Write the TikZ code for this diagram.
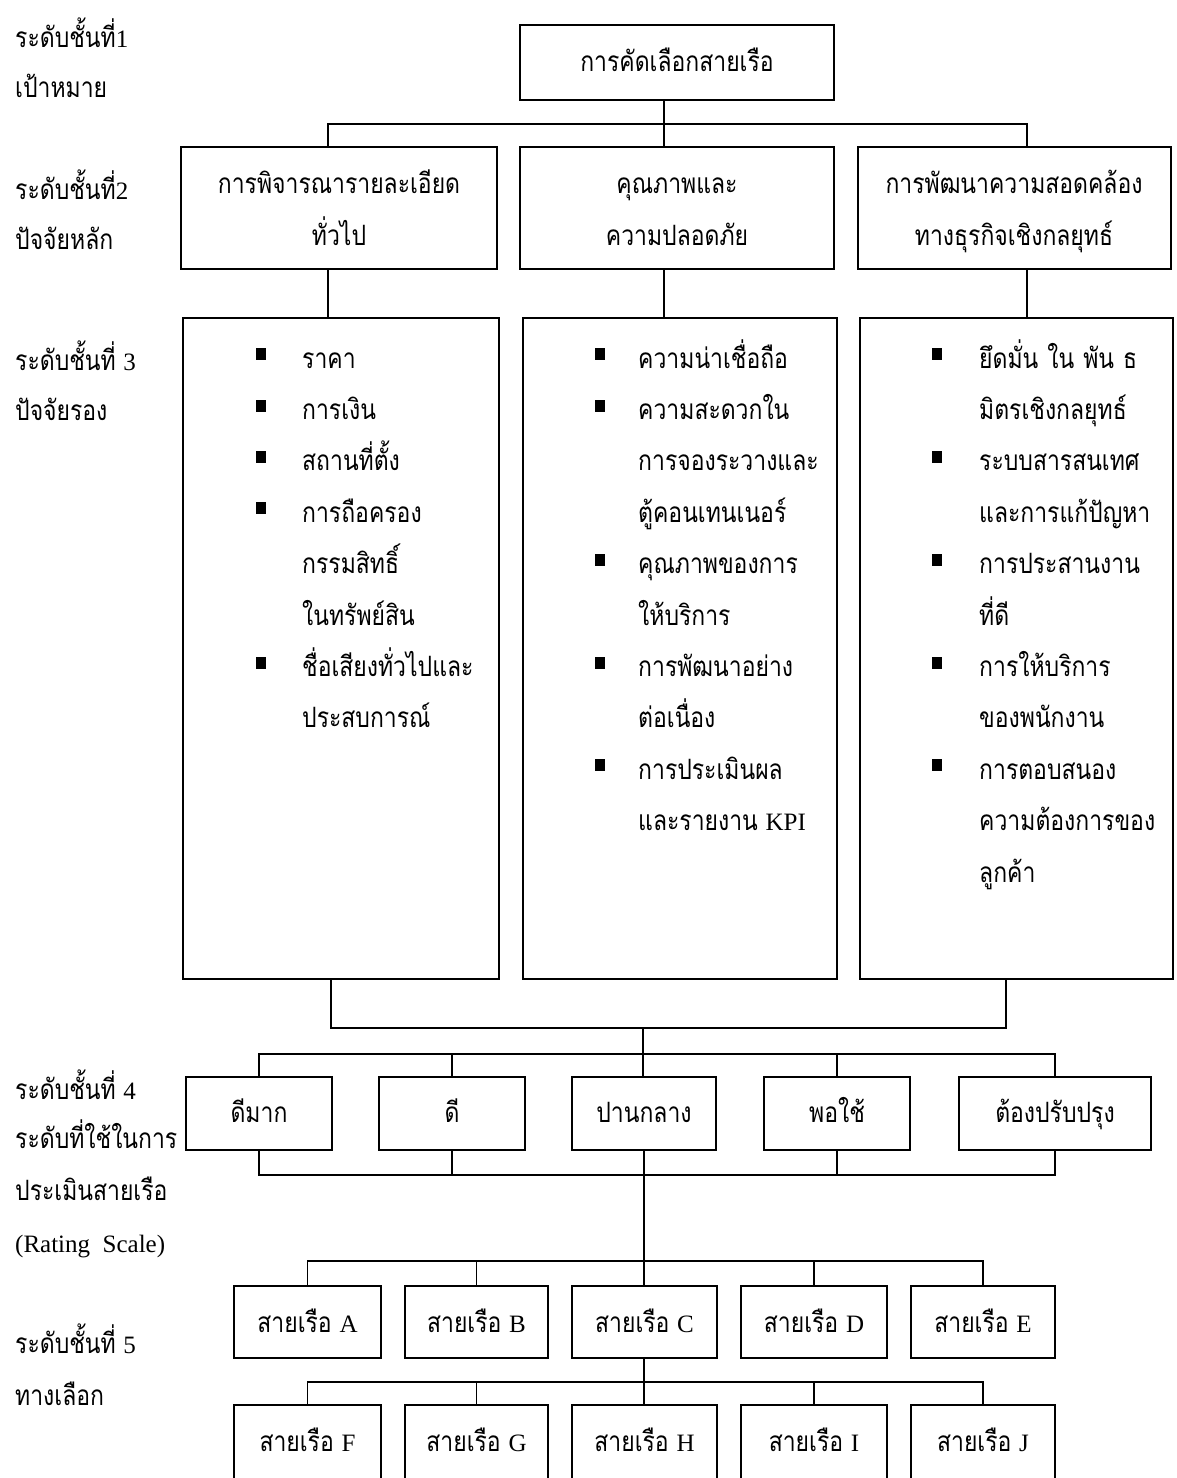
\documentclass[tikz,border=0pt]{standalone}
\usepackage{fontspec}
\setmainfont{Liberation Serif}
\newfontfamily\thf[Script=Thai,FakeStretch=0.82]{Loma}
\newfontfamily\latf{Liberation Serif}
\newcommand\tf{\thf\fontsize{28}{34}\selectfont}
\newcommand\lat[1]{{\latf\fontsize{25}{30}\selectfont #1}}
\newcommand\bx[5]{\node[box, minimum width={#4-#2}, minimum height={#5-#3}] (#1) at ({(#2+#4)/2},{(#3+#5)/2}) {};}
\begin{document}
\begin{tikzpicture}[x=1pt,y=-1pt,
  box/.style={draw, line width=1.8pt, inner sep=0pt},
  ln/.style={line width=1.3pt},
  tx/.style={inner sep=0pt, anchor=base, font=\tf},
  tl/.style={inner sep=0pt, anchor=base west, font=\tf},
  bul/.style={fill, inner sep=0pt, minimum width=10pt, minimum height=12pt, anchor=north west}]
\useasboundingbox (0,0) rectangle (1177,1478);
\clip (0,0) rectangle (1177,1478);
\fill[white] (0,0) rectangle (1177,1478);
% ---------- boxes ----------
\bx{top}{520}{25}{834}{100}
\bx{l2a}{181}{147}{497}{269}
\bx{l2b}{520}{147}{834}{269}
\bx{l2c}{858}{147}{1171}{269}
\bx{l3a}{183}{318}{499}{979}
\bx{l3b}{523}{318}{837}{979}
\bx{l3c}{860}{318}{1173}{979}
\bx{l4a}{186}{1077}{332}{1150}
\bx{l4b}{379}{1077}{525}{1150}
\bx{l4c}{572}{1077}{716}{1150}
\bx{l4d}{764}{1077}{910}{1150}
\bx{l4e}{959}{1077}{1151}{1150}
\bx{l5a}{234}{1286}{381}{1358}
\bx{l5b}{405}{1286}{548}{1358}
\bx{l5c}{572}{1286}{717}{1358}
\bx{l5d}{741}{1286}{887}{1358}
\bx{l5e}{911}{1286}{1055}{1358}
\bx{l6a}{234}{1405}{381}{1510}
\bx{l6b}{405}{1405}{548}{1510}
\bx{l6c}{572}{1405}{717}{1510}
\bx{l6d}{741}{1405}{887}{1510}
\bx{l6e}{911}{1405}{1055}{1510}
% ---------- connector columns ----------
\coordinate (cA) at (328,0);
\coordinate (cB) at (664,0);
\coordinate (cC) at (1027,0);
\coordinate (cD) at (331,0);
\coordinate (cE) at (1006,0);
\coordinate (j1) at (664,124);
\coordinate (j2) at (643,1028);
\coordinate (j3) at (643,1054);
\coordinate (j4) at (644,1175);
\coordinate (j5) at (644,1261);
\coordinate (j6) at (644,1382);
% level 1 -> 2
\draw[ln] (top.south -| j1) -- (j1);
\draw[ln] (l2a.north -| cA) |- (j1) -| (l2c.north -| cC);
\draw[ln] (j1) -- (l2b.north -| j1);
% level 2 -> 3
\draw[ln] (l2a.south -| cA) -- (l3a.north -| cA);
\draw[ln] (l2b.south -| cB) -- (l3b.north -| cB);
\draw[ln] (l2c.south -| cC) -- (l3c.north -| cC);
% level 3 -> 4
\draw[ln] (l3a.south -| cD) |- (j2) -| (l3c.south -| cE);
\draw[ln] (j2) -- (j3);
\draw[ln] (l4a.north) |- (j3) -| (l4e.north);
\draw[ln] (l4b.north) -- (l4b.north |- j3);
\draw[ln] (l4c.north -| j3) -- (j3);
\draw[ln] (l4d.north) -- (l4d.north |- j3);
% level 4 -> 5
\draw[ln] (l4a.south) |- (j4) -| (l4e.south);
\draw[ln] (l4b.south) -- (l4b.south |- j4);
\draw[ln] (l4d.south) -- (l4d.south |- j4);
\draw[ln] (l4c.south -| j4) -- (j4);
\draw[ln] (j4) -- (l5c.north -| j4);
\draw[ln] (l5a.north) |- (j5) -| (l5e.north);
\draw[ln] (l5b.north) -- (l5b.north |- j5);
\draw[ln] (l5d.north) -- (l5d.north |- j5);
\draw[ln] (l5c.south -| j6) -- (j6);
\draw[ln] (l6a.north) |- (j6) -| (l6e.north);
\draw[ln] (l6b.north) -- (l6b.north |- j6);
\draw[ln] (l6c.north -| j6) -- (j6);
\draw[ln] (l6d.north) -- (l6d.north |- j6);
% ---------- texts ----------
\node[tx] (ttop) at (677,71) {การคัดเลือกสายเรือ};
\node[tx] (t2a1) at (339,193) {การพิจารณารายละเอียด};
\node[tx] (t2a2) at (339,245) {ทั่วไป};
\node[tx] (t2b1) at (677,193) {คุณภาพและ};
\node[tx] (t2b2) at (677,245) {ความปลอดภัย};
\node[tx] (t2c1) at (1014,193) {การพัฒนาความสอดคล้อง};
\node[tx] (t2c2) at (1014,245) {ทางธุรกิจเชิงกลยุทธ์};
\foreach \t/\k in {ราคา/0,การเงิน/1,สถานที่ตั้ง/2,การถือครอง/3,กรรมสิทธิ์/4,ในทรัพย์สิน/5,ชื่อเสียงทั่วไปและ/6,ประสบการณ์/7}
  \node[tl] (ta\k) at (302,{368+51.4*\k}) {\t};
\foreach \k in {0,1,2,3,6}
  \node[bul] (ba\k) at (256,{368+51.4*\k-20}) {};
\foreach \t/\k in {ความน่าเชื่อถือ/0,ความสะดวกใน/1,การจองระวางและ/2,ตู้คอนเทนเนอร์/3,คุณภาพของการ/4,ให้บริการ/5,การพัฒนาอย่าง/6,ต่อเนื่อง/7,การประเมินผล/8,และรายงาน \lat{KPI}/9}
  \node[tl] (tb\k) at (638,{368+51.4*\k}) {\t};
\foreach \k in {0,1,4,6,8}
  \node[bul] (bb\k) at (595,{368+51.4*\k-20}) {};
\foreach \t/\k in {ยึดมั่น\hspace{9pt}ใน\hspace{9pt}พัน\hspace{9pt}ธ/0,มิตรเชิงกลยุทธ์/1,ระบบสารสนเทศ/2,และการแก้ปัญหา/3,การประสานงาน/4,ที่ดี/5,การให้บริการ/6,ของพนักงาน/7,การตอบสนอง/8,ความต้องการของ/9,ลูกค้า/10}
  \node[tl] (tc\k) at (979,{368+51.4*\k}) {\t};
\foreach \k in {0,2,4,6,8}
  \node[bul] (bc\k) at (932,{368+51.4*\k-20}) {};
\node[tx] (t4a) at (l4a |- 0,1122) {ดีมาก};
\node[tx] (t4b) at (l4b |- 0,1122) {ดี};
\node[tx] (t4c) at (l4c |- 0,1122) {ปานกลาง};
\node[tx] (t4d) at (l4d |- 0,1122) {พอใช้};
\node[tx] (t4e) at (l4e |- 0,1122) {ต้องปรับปรุง};
\foreach \n/\L in {l5a/A,l5b/B,l5c/C,l5d/D,l5e/E}
  \node[tx] (t\n) at ([yshift=-10pt]\n.center) {สายเรือ \lat{\L}};
\foreach \n/\L in {l6a/F,l6b/G,l6c/H,l6d/I,l6e/J}
  \node[tx] (t\n) at (\n.center |- 0,1451) {สายเรือ \lat{\L}};
% ---------- level labels ----------
\node[tl] (s1a) at (15,47) {ระดับชั้นที่\lat{1}};
\node[tl] (s1b) at (15,97) {เป้าหมาย};
\node[tl] (s2a) at (15,199) {ระดับชั้นที่\lat{2}};
\node[tl] (s2b) at (15,249) {ปัจจัยหลัก};
\node[tl] (s3a) at (15,370) {ระดับชั้นที่ \lat{3}};
\node[tl] (s3b) at (15,420) {ปัจจัยรอง};
\node[tl] (s4a) at (15,1099) {ระดับชั้นที่ \lat{4}};
\node[tl] (s4b) at (15,1148) {ระดับที่ใช้ในการ};
\node[tl] (s4c) at (15,1200) {ประเมินสายเรือ};
\node[tl] (s4d) at (15,1252) {\lat{(Rating\ \ Scale)}};
\node[tl] (s5a) at (15,1353) {ระดับชั้นที่ \lat{5}};
\node[tl] (s5b) at (15,1405) {ทางเลือก};
\end{tikzpicture}
\end{document}
